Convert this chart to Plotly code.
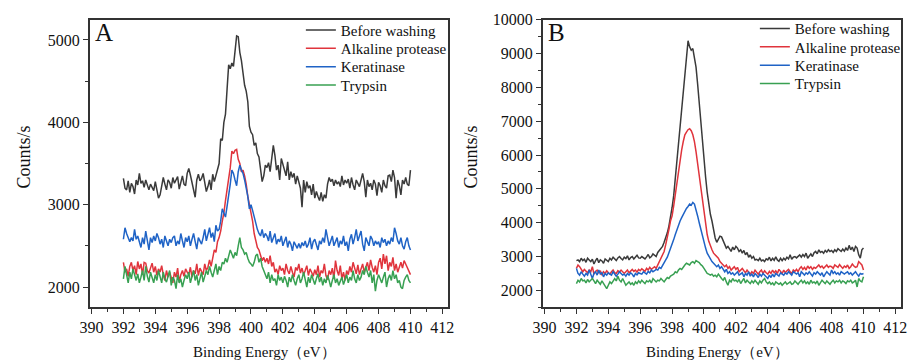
import numpy as np
import plotly.graph_objects as go

# ---------------- data ----------------
E_START, E_STEP, N_PTS = 392.0, 0.1, 181
energy = np.round(E_START + E_STEP * np.arange(N_PTS), 1)

series_names = ["Before washing", "Alkaline protease", "Keratinase", "Trypsin"]
series_colors = ["#3a3a3a", "#e0343c", "#1f63c6", "#38a052"]

A_before = [
    3320, 3200, 3180, 3290, 3150, 3260, 3220, 3130, 3300, 3240,
    3380, 3260, 3290, 3210, 3300, 3230, 3180, 3250, 3200, 3170,
    3280, 3150, 3080, 3120, 3210, 3330, 3250, 3180, 3300, 3270,
    3200, 3330, 3260, 3300, 3340, 3190, 3280, 3350, 3250, 3230,
    3380, 3440, 3360, 3270, 3200, 3090, 3300, 3370, 3290, 3320,
    3380, 3250, 3160, 3220, 3300, 3180, 3370, 3280, 3350, 3420,
    3500, 3800, 3780, 4000, 4100, 4400, 4700, 4650, 4720, 4680,
    4900, 5050, 5040, 4850, 4750, 4600, 4450, 4380, 4250, 3950,
    3880, 3850, 3720, 3750, 3620, 3580, 3450, 3280, 3350, 3480,
    3450, 3510, 3400, 3550, 3720, 3600, 3420, 3480, 3300, 3560,
    3500, 3420, 3350, 3520, 3300, 3400, 3330, 3380, 3250, 3350,
    3280, 3200, 2970, 3300, 3150, 3280, 3200, 3230, 3120, 3250,
    3080, 3160, 3100, 3050, 3150, 3040, 3120, 3080, 3250, 3330,
    3280, 3310, 3230, 3300, 3250, 3280, 3220, 3350, 3240, 3300,
    3260, 3310, 3200, 3330, 3240, 3180, 3300, 3250, 3220, 3300,
    3380, 3280, 3090, 3300, 3220, 3260, 3180, 3300, 3250, 3110,
    3270, 3230, 3150, 3300, 3230, 3200, 3350, 3360, 3280, 3420,
    3330, 3080, 3300, 3230, 3120, 3300, 3250, 3330, 3250, 3230,
    3420,
]
A_alkaline = [
    2300, 2180, 2220, 2130, 2250, 2300, 2200, 2260, 2150, 2310,
    2220, 2280, 2150, 2300, 2290, 2200, 2170, 2230, 2290, 2180,
    2250, 2140, 2220, 2180, 2260, 2150, 2080, 2200, 2120, 2180,
    2100, 2050, 2180, 2120, 2230, 2060, 2150, 2200, 2130, 2220,
    2180, 2150, 2240, 2120, 2200, 2160, 2280, 2140, 2230, 2180,
    2150, 2280, 2200, 2240, 2330, 2250, 2380, 2450, 2420, 2550,
    2600, 2680, 2800, 2900, 3050, 3180, 3300, 3450, 3650, 3620,
    3660, 3670, 3550, 3500, 3400, 3420, 3350, 3250, 3100, 3000,
    2900, 2800, 2650, 2550, 2480, 2450, 2380, 2320, 2360, 2300,
    2350, 2280, 2380, 2250, 2300, 2180, 2220, 2150, 2260, 2200,
    2230, 2150, 2280, 2200, 2160, 2250, 2180, 2120, 2240, 2200,
    2280, 2170, 2230, 2150, 2200, 2260, 2140, 2220, 2180, 2130,
    2210, 2150, 2260, 2120, 2200, 2170, 2280, 2140, 2090, 2200,
    2150, 2230, 2100, 2320, 2200, 2140, 2260, 2100, 2180, 2080,
    2200, 2150, 2250, 2180, 2300, 2220, 2160, 2270, 2150, 2220,
    2280, 2180, 2250, 2300, 2200, 2330, 2240, 2180, 2260, 2150,
    2300, 2350, 2220, 2400, 2280, 2380, 2200, 2300, 2250, 2360,
    2200, 2280, 2180, 2250, 2300, 2230, 2320, 2280, 2240, 2200,
    2150,
]
A_keratinase = [
    2580, 2720, 2650, 2600, 2550, 2600, 2560, 2700, 2580, 2620,
    2550, 2480, 2600, 2520, 2680, 2560, 2450, 2600, 2540, 2620,
    2560, 2650, 2600, 2520, 2580, 2480, 2620, 2560, 2500, 2580,
    2540, 2600, 2620, 2500, 2560, 2520, 2650, 2560, 2480, 2600,
    2550, 2620, 2500, 2580, 2650, 2550, 2460, 2600, 2550, 2520,
    2600, 2700, 2560, 2640, 2720, 2600, 2660, 2550, 2750, 2680,
    2700, 2800, 2950, 2900, 2850, 2980, 3100, 3250, 3420, 3380,
    3300, 3230, 3400, 3480, 3420, 3380, 3300, 3200, 3100, 2950,
    3000, 2930, 2850, 2800, 2700, 2650, 2620, 2700, 2600, 2650,
    2620, 2560, 2680, 2540, 2600, 2650, 2520, 2580, 2550, 2620,
    2500, 2570, 2610, 2480, 2560, 2520, 2440, 2550, 2500, 2470,
    2530, 2470, 2540, 2500, 2560, 2480, 2520, 2600, 2460, 2550,
    2580, 2500, 2450, 2560, 2520, 2600, 2540, 2700, 2580, 2500,
    2560, 2620, 2500, 2550, 2600, 2480, 2560, 2520, 2620, 2500,
    2550, 2440, 2580, 2640, 2520, 2600, 2700, 2560, 2620, 2680,
    2520, 2440, 2600, 2550, 2500, 2620, 2580, 2500, 2560, 2520,
    2550, 2480, 2600, 2540, 2580, 2500, 2560, 2520, 2600, 2550,
    2720, 2650, 2560, 2520, 2600, 2500, 2460, 2550, 2600, 2500,
    2450,
]
A_trypsin = [
    2100, 2250, 2150, 2050, 2180, 2100, 2220, 2150, 2080, 2160,
    2050, 2120, 2200, 2080, 2250, 2130, 2060, 2180, 2100, 2050,
    2150, 2080, 2200, 2120, 2050, 2180, 2100, 2060, 2150, 2200,
    2020, 2120, 2080, 1980, 2150, 2050, 2100, 2000, 2080, 2150,
    2100, 2180, 2050, 2120, 2200, 2080, 2150, 2020, 2100, 2180,
    2060, 2120, 2200, 2150, 2250, 2180, 2120, 2200, 2280, 2150,
    2250, 2200, 2300, 2280, 2350, 2300, 2380, 2450, 2400, 2350,
    2420, 2380, 2500, 2600, 2480, 2450, 2400, 2420, 2350, 2300,
    2280, 2250, 2300, 2380, 2400, 2300, 2350, 2250, 2200, 2150,
    2100, 2180, 2050, 2150, 2080, 2100, 2020, 2150, 2080, 2120,
    2050, 2130, 2080, 2000, 2120, 2060, 2150, 2080, 2020, 2100,
    2150, 2050, 2100, 2180, 2080, 2000, 2120, 2050, 2150, 2080,
    2030, 2100, 2160, 2060, 2120, 2020, 2100, 2050, 2140, 2080,
    2000, 2080, 2150, 2050, 2100, 2020, 2060, 2120, 2030, 2080,
    2150, 2050, 2120, 2080, 2200, 2100, 2050, 2150, 2080, 2120,
    2200, 2150, 2250, 2180, 2120, 2200, 2050, 2150, 1950, 2080,
    2150, 2100, 2050, 2120, 2180, 2000, 2100, 2150, 2080, 2200,
    2100, 2150, 2050, 2080, 2000, 1980, 2080, 2120, 2150, 2080,
    2050,
]

B_before = [
    2880, 2900, 2850, 2950, 2880, 2920, 2830, 2950, 2900, 2850,
    2920, 2780, 2880, 2950, 2820, 2900, 2870, 2800, 2930, 2880,
    2850, 2950, 2900, 2980, 2920, 2880, 2960, 3000, 2940, 2900,
    2980, 2940, 3020, 2900, 2970, 3000, 2930, 2990, 3040, 2960,
    2950, 3000, 2970, 2930, 2990, 3060, 2960, 3000, 3080, 3050,
    3000, 3120, 3180, 3250, 3300, 3420, 3550, 3700, 3900, 4150,
    4450, 4800, 5300, 5800, 6400, 6900, 7400, 7900, 8350, 8700,
    9380, 9200, 9100, 9150, 8900, 8600, 8100, 7500, 6900, 6300,
    5800, 5350, 4900, 4550, 4250, 4050, 3800, 3550, 3420, 3500,
    3600, 3580, 3450, 3350, 3250, 3300, 3200, 3150, 3280, 3200,
    3300, 3250, 3150, 3200, 3100, 3180, 3050, 3120, 2980, 3050,
    2950, 3000, 2900, 2920, 2880, 2950, 2870, 2900, 2850, 2930,
    2900, 2980, 2870, 2950, 2890, 2990, 2900, 2860, 2950, 2880,
    2950, 2900, 2980, 2930, 3050, 2920, 2980, 3000, 2960, 3010,
    3050, 2980, 3060, 3000, 3100, 2950, 3020, 3080, 3000, 3110,
    3150, 3080, 3200, 3120, 3150, 3100, 3180, 3130, 3200, 3150,
    3180, 3120, 3200, 3150, 3230, 3180, 3150, 3220, 3160, 3250,
    3180, 3330, 3200, 3280, 3150, 3300, 3250, 3050, 2950, 3200,
    3250,
]
B_alkaline = [
    2650, 2750, 2700, 2600, 2550, 2620, 2580, 2520, 2600, 2550,
    2700, 2480, 2560, 2600, 2520, 2580, 2450, 2550, 2500, 2580,
    2520, 2480, 2550, 2600, 2520, 2500, 2580, 2540, 2600, 2560,
    2500, 2550, 2600, 2520, 2580, 2620, 2560, 2600, 2540, 2620,
    2580, 2640, 2600, 2560, 2650, 2600, 2680, 2620, 2660, 2700,
    2650, 2750, 2800, 2900, 3000, 3150, 3350, 3550, 3800, 4050,
    4200, 4500, 4850, 5200, 5550, 5850, 6150, 6400, 6600, 6680,
    6750, 6780, 6720, 6600, 6400, 6100, 5750, 5350, 4950, 4550,
    4200, 3900, 3650, 3450, 3300, 3200, 3100, 3050, 3000, 2950,
    2850, 2800, 2750, 2700, 2750, 2650, 2700, 2600, 2650, 2700,
    2620, 2680, 2550, 2600, 2650, 2580, 2520, 2600, 2550, 2480,
    2550, 2500, 2600, 2520, 2480, 2550, 2600, 2500, 2580, 2520,
    2480, 2560, 2500, 2600, 2520, 2580, 2500, 2620, 2550, 2500,
    2600, 2520, 2580, 2620, 2550, 2500, 2600, 2560, 2620, 2550,
    2650, 2700, 2620, 2680, 2600, 2720, 2650, 2700, 2620, 2680,
    2650, 2700, 2750, 2680, 2720, 2650, 2700, 2750, 2680, 2720,
    2700, 2650, 2750, 2700, 2680, 2760, 2700, 2650, 2720, 2680,
    2750, 2650, 2700, 2780, 2720, 2680, 2700, 2850, 2800, 2750,
    2600,
]
B_keratinase = [
    2650, 2500, 2450, 2550, 2480, 2420, 2500, 2450, 2600, 2480,
    2350, 2500, 2550, 2450, 2600, 2480, 2520, 2400, 2500, 2450,
    2520, 2480, 2450, 2550, 2500, 2420, 2480, 2550, 2500, 2450,
    2480, 2420, 2500, 2450, 2520, 2480, 2400, 2500, 2460, 2520,
    2500, 2480, 2550, 2520, 2480, 2560, 2520, 2600, 2550, 2580,
    2620, 2600, 2680, 2650, 2750, 2800, 2900, 2980, 3100, 3250,
    3350, 3500, 3650, 3800, 3950, 4050, 4150, 4250, 4350, 4420,
    4480, 4550, 4520, 4600, 4550, 4400, 4200, 4000, 3800, 3600,
    3400, 3250, 3100, 3000, 2900, 2850, 2800, 2750, 2700, 2750,
    2650, 2700, 2600, 2550, 2620, 2500, 2550, 2480, 2520, 2450,
    2500, 2550, 2450, 2480, 2520, 2400, 2500, 2450, 2550, 2420,
    2480, 2400, 2500, 2450, 2380, 2480, 2420, 2500, 2450, 2400,
    2350, 2450, 2380, 2480, 2400, 2500, 2450, 2420, 2520, 2480,
    2450, 2520, 2480, 2550, 2500, 2450, 2550, 2500, 2480, 2520,
    2400, 2550, 2500, 2450, 2520, 2480, 2550, 2500, 2420, 2520,
    2480, 2550, 2500, 2450, 2520, 2400, 2480, 2550, 2500, 2450,
    2600, 2500, 2550, 2480, 2520, 2450, 2550, 2500, 2480, 2520,
    2550, 2480, 2520, 2450, 2500, 2550, 2480, 2420, 2500, 2480,
    2500,
]
B_trypsin = [
    2200, 2300, 2250, 2350, 2280, 2300, 2220, 2320, 2250, 2300,
    2350, 2280, 2200, 2300, 2250, 2180, 2280, 2200, 2150, 2050,
    2150, 2250, 2200, 2300, 2350, 2280, 2420, 2300, 2250, 2350,
    2250, 2150, 2200, 2250, 2180, 2220, 2150, 2250, 2200, 2280,
    2220, 2300, 2250, 2200, 2280, 2250, 2300, 2220, 2350, 2280,
    2250, 2300, 2280, 2350, 2300, 2250, 2320, 2380, 2350, 2420,
    2450, 2480, 2550, 2520, 2600, 2650, 2620, 2700, 2750, 2800,
    2780, 2750, 2820, 2850, 2800, 2880, 2850, 2820, 2760, 2720,
    2650, 2550, 2500, 2480, 2450, 2480, 2420, 2450, 2400, 2480,
    2400, 2350, 2300, 2380, 2250, 2150, 2300, 2250, 2350, 2280,
    2300, 2250, 2320, 2200, 2280, 2350, 2220, 2300, 2250, 2200,
    2280, 2220, 2300, 2250, 2180, 2280, 2220, 2300, 2350, 2250,
    2200, 2250, 2180, 2220, 2150, 2250, 2200, 2180, 2220, 2150,
    2200, 2250, 2180, 2220, 2250, 2180, 2200, 2280, 2220, 2180,
    2250, 2300, 2220, 2280, 2200, 2250, 2180, 2300, 2220, 2250,
    2200, 2280, 2150, 2220, 2300, 2250, 2200, 2280, 2230, 2180,
    2250, 2300, 2220, 2280, 2250, 2300, 2220, 2280, 2250, 2200,
    2280, 2250, 2300, 2220, 2250, 2300, 2100, 2350, 2280, 2250,
    2400,
]

panel_A = [A_before, A_alkaline, A_keratinase, A_trypsin]
panel_B = [B_before, B_alkaline, B_keratinase, B_trypsin]

x_ticks = list(range(390, 413, 2))
yA_ticks = [2000, 3000, 4000, 5000]
yB_ticks = list(range(2000, 10001, 1000))

# ---------------- figure ----------------
W, H = 923, 364
FONT = "Liberation Serif"

def px_x(p):
    return p / W

def px_y(p):
    return 1 - p / H

# one single-entry legend per series so that the row spacing matches
legend_rows_A = [22.7, 41.5, 60.2, 79.0]
legend_rows_B = [21.2, 40.0, 58.7, 77.4]
legend_x_A, legend_x_B = 296, 758

fig = go.Figure()
legend_layout = {}
k = 0
for panel, xa, ya, rows, lx in [(panel_A, "x", "y", legend_rows_A, legend_x_A),
                                (panel_B, "x2", "y2", legend_rows_B, legend_x_B)]:
    for vals, name, col, ry in zip(panel, series_names, series_colors, rows):
        k += 1
        lid = "legend" if k == 1 else f"legend{k}"
        fig.add_trace(go.Scatter(x=energy, y=vals, mode="lines", name=name,
                                 line=dict(color=col, width=1.5),
                                 xaxis=xa, yaxis=ya, legend=lid))
        legend_layout[lid] = dict(
            x=px_x(lx), y=px_y(ry), xanchor="left", yanchor="middle",
            font=dict(family=FONT, size=15, color="#111111"),
            bgcolor="rgba(0,0,0,0)", borderwidth=0, itemwidth=30,
        )

axis_common = dict(
    showline=True, linecolor="#333333", linewidth=1.5, mirror=True,
    ticks="outside", ticklen=5, tickwidth=1.2, tickcolor="#333333",
    showgrid=False, zeroline=False,
    tickfont=dict(family=FONT, size=16, color="#111111"),
    minor=dict(ticks="outside", ticklen=3, tickwidth=1.2, tickcolor="#333333", showgrid=False),
)

fig.update_layout(
    width=W, height=H,
    margin=dict(l=0, r=0, t=0, b=0),
    paper_bgcolor="white", plot_bgcolor="white",
    font=dict(family=FONT, color="#111111"),
    xaxis=dict(domain=[px_x(81), px_x(446)], range=[389.88, 412.37],
               tickvals=x_ticks, minor_dtick=1, anchor="y", **axis_common),
    yaxis=dict(domain=[px_y(306), px_y(12)], range=[1754, 5246],
               tickvals=yA_ticks, tickformat="d", minor_dtick=500, anchor="x", **axis_common),
    xaxis2=dict(domain=[px_x(542), px_x(907)], range=[389.88, 412.37],
                tickvals=x_ticks, minor_dtick=1, anchor="y2", **axis_common),
    yaxis2=dict(domain=[px_y(306), px_y(12)], range=[1500, 10000.5],
                tickvals=yB_ticks, tickformat="d", minor_dtick=500, anchor="x2", **axis_common),
    showlegend=True,
    **legend_layout,
)

title_font = dict(family=FONT, size=18, color="#111111")
xt_font = dict(family=FONT, size=15, color="#111111")
annots = [
    dict(text="A", x=px_x(84), y=px_y(25), xanchor="left", yanchor="middle",
         font=dict(family=FONT, size=25, color="#111111")),
    dict(text="B", x=px_x(545), y=px_y(25), xanchor="left", yanchor="middle",
         font=dict(family=FONT, size=25, color="#111111")),
    dict(text="Counts/s", x=px_x(14), y=px_y(152), textangle=-90,
         xanchor="center", yanchor="middle", font=title_font),
    dict(text="Counts/s", x=px_x(469), y=px_y(152), textangle=-90,
         xanchor="center", yanchor="middle", font=title_font),
    dict(text="Binding Energy（eV）", x=px_x(259), y=px_y(352),
         xanchor="center", yanchor="middle", font=xt_font),
    dict(text="Binding Energy（eV）", x=px_x(720), y=px_y(352),
         xanchor="center", yanchor="middle", font=xt_font),
]
for a in annots:
    a.update(xref="paper", yref="paper", showarrow=False)
fig.update_layout(annotations=annots)

fig.write_html("out.html")
